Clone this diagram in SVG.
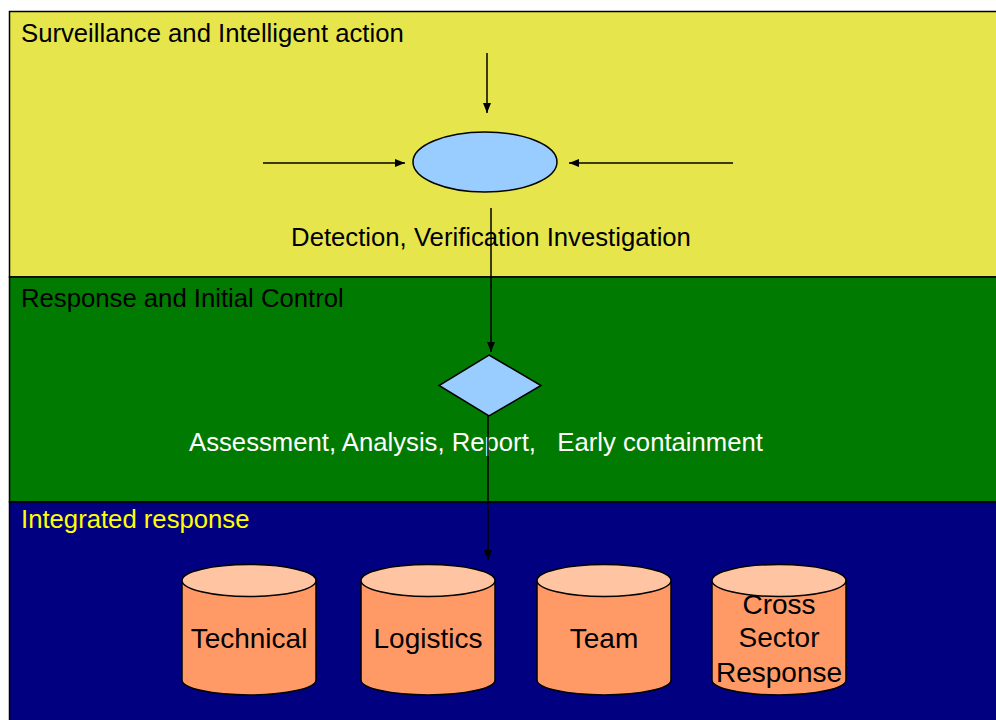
<svg xmlns="http://www.w3.org/2000/svg" width="996" height="720" viewBox="0 0 996 720">
  <defs>
    <marker id="arrow" viewBox="0 0 10 8" refX="10" refY="4" markerWidth="10" markerHeight="8" markerUnits="userSpaceOnUse" orient="auto">
      <path d="M0,0 L10,4 L0,8 Z" fill="#000"/>
    </marker>
    <style>
      text { font-family: "Liberation Sans", Arial, sans-serif; }
      .band { stroke: #000; stroke-width: 1.5; }
      .title { font-size: 25.7px; }
      .conn { stroke: #000; stroke-width: 1.5; fill: none; marker-end: url(#arrow); }
      .shape { fill: #99CCFF; stroke: #000; stroke-width: 1.5; }
      .cyl-body { fill: #FF9966; stroke: #000; stroke-width: 1.5; }
      .cyl-top { fill: #FFC4A2; stroke: #000; stroke-width: 1.5; }
      .cyl-label { font-size: 28px; fill: #000; text-anchor: middle; }
    </style>
  </defs>

  <rect width="996" height="720" fill="#FFFFFF"/>

  <!-- Swim bands -->
  <g id="band-surveillance">
    <rect class="band" x="9.5" y="11.5" width="1000" height="265.5" fill="#E6E64C"/>
    <text class="title" x="21" y="42" fill="#000">Surveillance and Intelligent action</text>
  </g>
  <g id="band-response">
    <rect class="band" x="9.5" y="277" width="1000" height="225" fill="#007A00"/>
    <text class="title" x="21" y="307" fill="#000">Response and Initial Control</text>
  </g>
  <g id="band-integrated">
    <rect class="band" x="9.5" y="502" width="1000" height="230" fill="#000080"/>
    <text class="title" x="21" y="528" fill="#FFFF00">Integrated response</text>
  </g>

  <!-- Detection node -->
  <g id="node-detection">
    <ellipse class="shape" cx="485" cy="162" rx="72" ry="30"/>
    <text class="title" x="491" y="246" text-anchor="middle" fill="#000">Detection, Verification Investigation</text>
  </g>

  <!-- Assessment node -->
  <g id="node-assessment">
    <polygon class="shape" points="489,355 541,385.5 489,416 439,385.5"/>
    <text class="title" x="476" y="451" text-anchor="middle" fill="#FFFFFF" xml:space="preserve">Assessment, Analysis, Report,   Early containment</text>
  </g>

  <!-- Response resources -->
  <g id="node-technical">
    <path class="cyl-body" d="M182,580 L182,680 A67,15 0 0 0 316,680 L316,580 Z"/>
    <ellipse class="cyl-top" cx="249" cy="580.5" rx="67" ry="16"/>
    <text class="cyl-label" x="249" y="648">Technical</text>
  </g>
  <g id="node-logistics">
    <path class="cyl-body" d="M361,580 L361,680 A67,15 0 0 0 495,680 L495,580 Z"/>
    <ellipse class="cyl-top" cx="428" cy="580.5" rx="67" ry="16"/>
    <text class="cyl-label" x="428" y="648">Logistics</text>
  </g>
  <g id="node-team">
    <path class="cyl-body" d="M537,580 L537,680 A67,15 0 0 0 671,680 L671,580 Z"/>
    <ellipse class="cyl-top" cx="604" cy="580.5" rx="67" ry="16"/>
    <text class="cyl-label" x="604" y="648">Team</text>
  </g>
  <g id="node-cross-sector">
    <path class="cyl-body" d="M712,580 L712,680 A67,15 0 0 0 846,680 L846,580 Z"/>
    <ellipse class="cyl-top" cx="779" cy="580.5" rx="67" ry="16"/>
    <text class="cyl-label" x="779" y="614">Cross</text>
    <text class="cyl-label" x="779" y="647">Sector</text>
    <text class="cyl-label" x="779" y="682">Response</text>
  </g>

  <!-- Connectors -->
  <g id="connectors">
    <line class="conn" x1="487" y1="53" x2="487" y2="113"/>
    <line class="conn" x1="263" y1="163" x2="405" y2="163"/>
    <line class="conn" x1="733" y1="163" x2="569" y2="163"/>
    <line class="conn" x1="491" y1="208" x2="491" y2="352"/>
    <line class="conn" x1="488" y1="416" x2="488" y2="560"/>
  </g>
</svg>
